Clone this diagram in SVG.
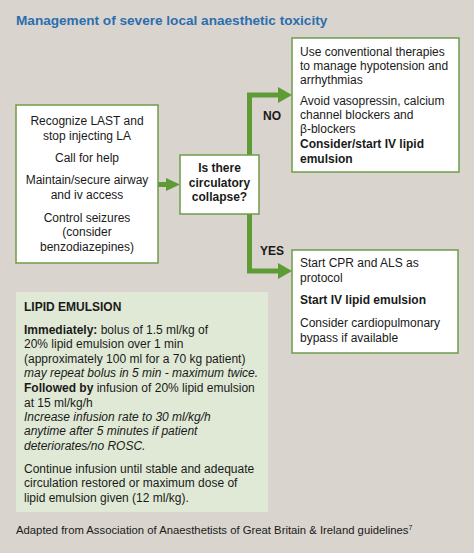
<svg xmlns="http://www.w3.org/2000/svg" width="474" height="553" viewBox="0 0 474 553">
<style>
text{font-family:"Liberation Sans",Arial,sans-serif;font-size:12px;fill:#1a1a1a}
.b{font-weight:bold}
.i{font-style:italic}
.c{text-anchor:middle}
.box{fill:#ffffff;stroke:#6e9c4a;stroke-width:1.5}
.ln{fill:none;stroke:#5f9b35;stroke-width:5}
.ah{fill:#5f9b35}
</style>
<rect x="0" y="0" width="474" height="553" fill="#d9d4cd"/>
<text x="16" y="25" class="b" style="font-size:13.6px;fill:#2a6eb0">Management of severe local anaesthetic toxicity</text>

<g id="connectors">
<path class="ln" d="M158,184.5 H168"/>
<polygon class="ah" points="166,178 180,184.5 166,191"/>
<path class="ln" d="M249.5,155 V95 H280"/>
<polygon class="ah" points="278,87 292,95 278,103"/>
<path class="ln" d="M249.5,214 V271 H280"/>
<polygon class="ah" points="278,263 292,271 278,279"/>
<text x="263" y="120" class="b">NO</text>
<text x="260" y="255" class="b">YES</text>
</g>

<g id="start">
<rect class="box" x="16" y="105" width="142" height="158"/>
<text class="c" x="87" y="125">Recognize LAST and</text>
<text class="c" x="87" y="140">stop injecting LA</text>
<text class="c" x="87" y="162">Call for help</text>
<text class="c" x="87" y="184">Maintain/secure airway</text>
<text class="c" x="87" y="199">and iv access</text>
<text class="c" x="87" y="222">Control seizures</text>
<text class="c" x="87" y="236">(consider</text>
<text class="c" x="87" y="251">benzodiazepines)</text>
</g>

<g id="decision">
<rect class="box" x="180" y="155" width="79" height="59"/>
<text class="c b" x="219.5" y="172">Is there</text>
<text class="c b" x="219.5" y="187">circulatory</text>
<text class="c b" x="219.5" y="201">collapse?</text>
</g>

<g id="no-branch">
<rect class="box" x="292" y="38" width="167" height="134"/>
<text x="300" y="56">Use conventional therapies</text>
<text x="300" y="70">to manage hypotension and</text>
<text x="300" y="84">arrhythmias</text>
<text x="300" y="105">Avoid vasopressin, calcium</text>
<text x="300" y="119">channel blockers and</text>
<text x="300" y="133">β-blockers</text>
<text x="300" y="148" class="b">Consider/start IV lipid</text>
<text x="300" y="163" class="b">emulsion</text>
</g>

<g id="yes-branch">
<rect class="box" x="292" y="250" width="166" height="103"/>
<text x="300" y="267">Start CPR and ALS as</text>
<text x="300" y="282">protocol</text>
<text x="300" y="304" class="b">Start IV lipid emulsion</text>
<text x="300" y="327">Consider cardiopulmonary</text>
<text x="300" y="342">bypass if available</text>
</g>

<g id="lipid-emulsion">
<rect x="16" y="292" width="252" height="220" fill="#e0e9d5"/>
<text x="24" y="311" class="b">LIPID EMULSION</text>
<text x="24" y="334"><tspan class="b">Immediately:</tspan> bolus of 1.5 ml/kg of</text>
<text x="24" y="348">20% lipid emulsion over 1 min</text>
<text x="24" y="363">(approximately 100 ml for a 70 kg patient)</text>
<text x="24" y="377" class="i">may repeat bolus in 5 min - maximum twice.</text>
<text x="24" y="392"><tspan class="b">Followed by</tspan> infusion of 20% lipid emulsion</text>
<text x="24" y="407">at 15 ml/kg/h</text>
<text x="24" y="421" class="i">Increase infusion rate to 30 ml/kg/h</text>
<text x="24" y="435" class="i">anytime after 5 minutes if patient</text>
<text x="24" y="450" class="i">deteriorates/no ROSC.</text>
<text x="24" y="473">Continue infusion until stable and adequate</text>
<text x="24" y="487">circulation restored or maximum dose of</text>
<text x="24" y="502">lipid emulsion given (12 ml/kg).</text>
</g>

<text x="16" y="534" style="font-size:11.3px">Adapted from Association of Anaesthetists of Great Britain &amp; Ireland guidelines<tspan dy="-4" style="font-size:7px">7</tspan></text>
</svg>
